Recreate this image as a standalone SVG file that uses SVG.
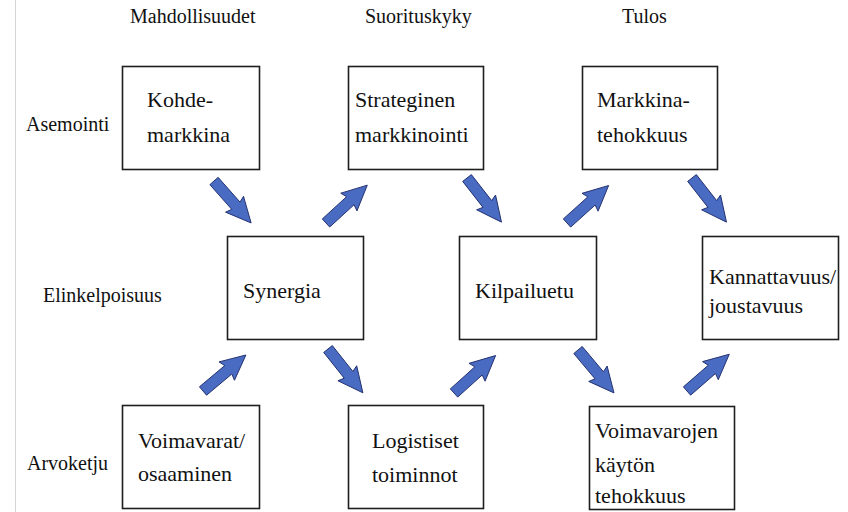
<svg xmlns="http://www.w3.org/2000/svg" xmlns:xlink="http://www.w3.org/1999/xlink" width="848" height="512" viewBox="0 0 848 512">
  <style>
    .box { fill: #ffffff; stroke: #1e1e1e; stroke-width: 1.6; }
    .t { font-family: "Liberation Serif", "Times New Roman", serif; font-size: 22px; fill: #111111; }
    .hd { font-family: "Liberation Serif", "Times New Roman", serif; font-size: 20px; fill: #111111; }
    .arrow { fill: #4a6bc2; stroke: #22306e; stroke-width: 0.9; stroke-linejoin: round; }
  </style>
  <defs>
    <!-- block arrow pointing along +x, tail at the origin -->
    <path id="arr" d="M0,-5.5 L33,-5.5 L31,-12 L56,0 L31,12 L33,5.5 L0,5.5 Z"/>
  </defs>

  <rect width="848" height="512" fill="#ffffff"/>
  <line x1="15.5" y1="0" x2="15.5" y2="512" stroke="#d4d4d4" stroke-width="1"/>

  <!-- column headings -->
  <g id="headings">
    <text class="hd" x="130" y="23">Mahdollisuudet</text>
    <text class="hd" x="365" y="23">Suorituskyky</text>
    <text class="hd" x="622" y="23">Tulos</text>
  </g>

  <!-- row headings -->
  <g id="rows">
    <text class="hd" x="26" y="131">Asemointi</text>
    <text class="hd" x="43" y="302">Elinkelpoisuus</text>
    <text class="hd" x="27" y="470">Arvoketju</text>
  </g>

  <g id="kohdemarkkina">
    <rect class="box" x="122.5" y="66.5" width="137" height="103"/>
    <text class="t" x="147" y="107">Kohde-</text>
    <text class="t" x="147" y="142">markkina</text>
  </g>
  <g id="strateginen">
    <rect class="box" x="348.5" y="66.5" width="135" height="103"/>
    <text class="t" x="355" y="107">Strateginen</text>
    <text class="t" x="355" y="142">markkinointi</text>
  </g>
  <g id="markkinatehokkuus">
    <rect class="box" x="582.5" y="66.5" width="135" height="103"/>
    <text class="t" x="597" y="107">Markkina-</text>
    <text class="t" x="597" y="142">tehokkuus</text>
  </g>

  <g id="synergia">
    <rect class="box" x="227.5" y="236.5" width="136" height="103"/>
    <text class="t" x="243" y="298">Synergia</text>
  </g>
  <g id="kilpailuetu">
    <rect class="box" x="459.5" y="236.5" width="137" height="103"/>
    <text class="t" x="475" y="298">Kilpailuetu</text>
  </g>
  <g id="kannattavuus">
    <rect class="box" x="702.5" y="236.5" width="136" height="103"/>
    <text class="t" x="709" y="284">Kannattavuus/</text>
    <text class="t" x="709" y="313">joustavuus</text>
  </g>

  <g id="voimavarat">
    <rect class="box" x="122.5" y="405.5" width="137" height="103"/>
    <text class="t" x="138" y="448">Voimavarat/</text>
    <text class="t" x="138" y="481">osaaminen</text>
  </g>
  <g id="logistiset">
    <rect class="box" x="348.5" y="405.5" width="135" height="103"/>
    <text class="t" x="372" y="448">Logistiset</text>
    <text class="t" x="372" y="482">toiminnot</text>
  </g>
  <g id="voimavarojen">
    <rect class="box" x="589.5" y="406.5" width="145" height="103"/>
    <text class="t" x="595" y="438">Voimavarojen</text>
    <text class="t" x="595" y="472">käytön</text>
    <text class="t" x="595" y="503">tehokkuus</text>
  </g>

  <!-- connectors -->
  <g id="connectors" class="arrow">
    <use xlink:href="#arr" href="#arr" transform="translate(214,181) rotate(48.5)"/>
    <use xlink:href="#arr" href="#arr" transform="translate(326,223) rotate(-42.5)"/>
    <use xlink:href="#arr" href="#arr" transform="translate(467,178) rotate(52)"/>
    <use xlink:href="#arr" href="#arr" transform="translate(567,223) rotate(-42)"/>
    <use xlink:href="#arr" href="#arr" transform="translate(692,178) rotate(52)"/>
    <use xlink:href="#arr" href="#arr" transform="translate(203,391) rotate(-40)"/>
    <use xlink:href="#arr" href="#arr" transform="translate(328,349) rotate(51.5)"/>
    <use xlink:href="#arr" href="#arr" transform="translate(454,393) rotate(-42)"/>
    <use xlink:href="#arr" href="#arr" transform="translate(578,350) rotate(50)"/>
    <use xlink:href="#arr" href="#arr" transform="translate(687,391) rotate(-41)"/>
  </g>
</svg>
